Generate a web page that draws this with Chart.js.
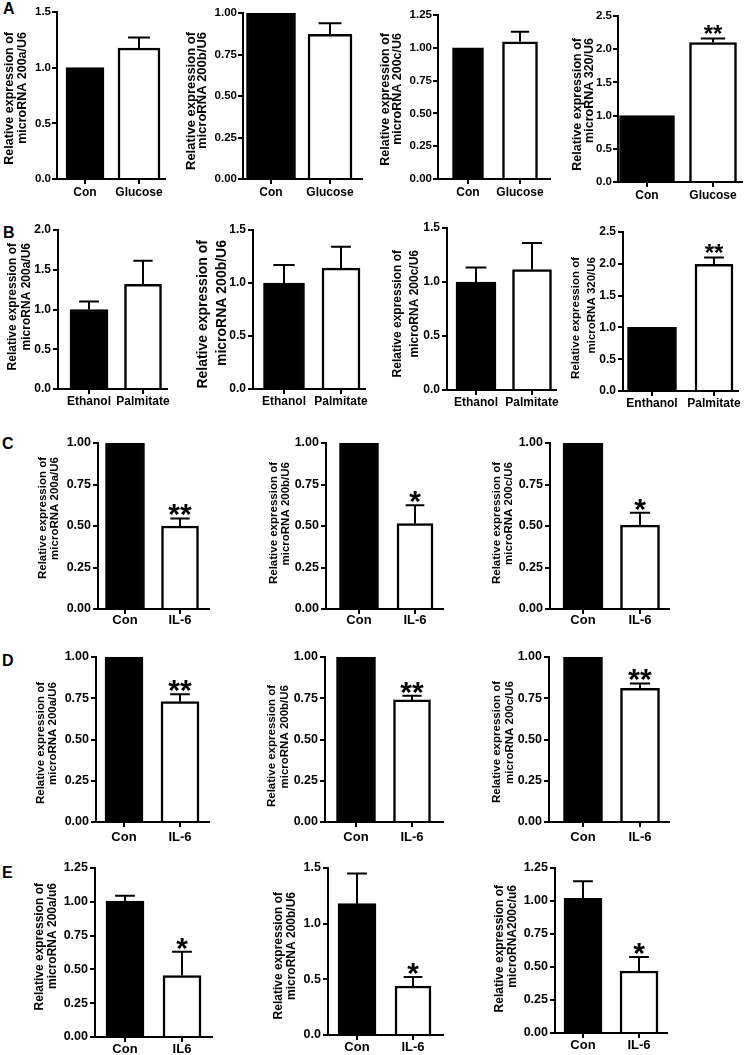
<!DOCTYPE html>
<html>
<head>
<meta charset="utf-8">
<script src="https://cdn.jsdelivr.net/npm/chart.js@4.4.0/dist/chart.umd.min.js"></script>
<style>
  html, body { margin: 0; padding: 0; background: #fff; }
  body { width: 745px; height: 1055px; position: relative; overflow: hidden; }
  canvas { position: absolute; }
  .tag { position: absolute; font: bold 16px 'Liberation Sans', Arial, sans-serif; line-height: 16px; color: #000; }
</style>
</head>
<body>
<div class="tag" style="left:3px;top:1px">A</div>
<div class="tag" style="left:3px;top:225px">B</div>
<div class="tag" style="left:2px;top:436px">C</div>
<div class="tag" style="left:2px;top:653px">D</div>
<div class="tag" style="left:2px;top:865px">E</div>
<script>
// values, one entry per panel (A1..A4, B1..B4, C1..C3, D1..D3, E1..E3)
const panelRows = ['A', 'A', 'A', 'A', 'B', 'B', 'B', 'B', 'C', 'C', 'C', 'D', 'D', 'D', 'E', 'E', 'E'];

const groupLabels = [
    ['Con', 'Glucose'], ['Con', 'Glucose'], ['Con', 'Glucose'], ['Con', 'Glucose'],
    ['Ethanol', 'Palmitate'], ['Ethanol', 'Palmitate'], ['Ethanol', 'Palmitate'], ['Enthanol', 'Palmitate'],
    ['Con', 'IL-6'], ['Con', 'IL-6'], ['Con', 'IL-6'],
    ['Con', 'IL-6'], ['Con', 'IL-6'], ['Con', 'IL-6'],
    ['Con', 'IL6'], ['Con', 'IL-6'], ['Con', 'IL-6']
];

const yTitles = [
    'microRNA 200a/U6', 'microRNA 200b/U6', 'microRNA 200c/U6', 'microRNA 320/U6',
    'microRNA 200a/U6', 'microRNA 200b/U6', 'microRNA 200c/U6', 'microRNA 320/U6',
    'microRNA 200a/U6', 'microRNA 200b/U6', 'microRNA 200c/U6',
    'microRNA 200a/U6', 'microRNA 200b/U6', 'microRNA 200c/U6',
    'microRNA 200a/u6', 'microRNA 200b/U6', 'microRNA200c/u6'
];

const q4 = ['0.00', '0.25', '0.50', '0.75', '1.00'];
const q5 = ['0.00', '0.25', '0.50', '0.75', '1.00', '1.25'];
const yTickLabels = [
    ['0.0', '0.5', '1.0', '1.5'],
    q4,
    q5,
    ['0.0', '0.5', '1.0', '1.5', '2.0', '2.5'],
    ['0.0', '0.5', '1.0', '1.5', '2.0'],
    ['0.0', '0.5', '1.0', '1.5'],
    ['0.0', '0.5', '1.0', '1.5'],
    ['0.0', '0.5', '1.0', '1.5', '2.0', '2.5'],
    q4, q4, q4,
    q4, q4, q4,
    q5,
    ['0.0', '0.5', '1.0', '1.5'],
    q5
];

const controlMeans = [1.0, 1.0, 1.0, 1.0, 1.0, 1.0, 1.0, 1.0, 1.0, 1.0, 1.0, 1.0, 1.0, 1.0, 1.005, 1.18, 1.02];
const controlErrTop = [null, null, null, null, 1.10, 1.17, 1.135, null, null, null, null, null, null, null, 1.045, 1.45, 1.15];
const treatedMeans = [1.177, 0.872, 1.046, 2.10, 1.317, 1.14, 1.116, 1.99, 0.50, 0.515, 0.505, 0.73, 0.74, 0.81, 0.455, 0.44, 0.47];
const treatedErrTop = [1.27, 0.938, 1.123, 2.16, 1.614, 1.342, 1.36, 2.10, 0.545, 0.625, 0.58, 0.775, 0.765, 0.84, 0.63, 0.52, 0.575];
const stars = ['', '', '', '**', '', '', '', '**', '**', '*', '*', '**', '**', '**', '*', '*', '*'];

// where each panel sits on the page:
// y axis x, x axis end, top tick y, zero y, bar centres, bar widths,
// title line centres, title top end, title size
const boxes = [
    [57, 165, 12, 179, 85, 139, 38, 42, 10, 23, 32, 12.5],
    [243, 362, 13, 179, 271, 330, 49, 44, 191, 202, 32, 13],
    [438, 550, 15, 179, 468, 520, 31, 35, 386, 398, 33, 12.5],
    [618, 742, 16, 182, 647, 713, 55, 47, 578, 590, 38, 12.5],
    [58, 167, 230, 389, 89, 143, 38, 37, 13, 27, 243, 12],
    [253, 365, 230, 389, 284, 341, 41, 38, 203, 222, 240, 14],
    [447, 556, 228, 390, 476, 532, 40, 39, 398, 415, 250, 12],
    [623, 738, 232, 391, 652, 714, 49, 38, 576, 592, 257, 11.5],
    [98, 209, 443, 609, 125, 180, 39, 37, 43, 55, 457, 11.5],
    [326, 443, 443, 609, 359, 415, 39, 36, 274, 286, 462, 11.5],
    [550, 669, 443, 609, 583, 640, 40, 39, 497, 509, 462, 11.5],
    [96, 209, 657, 822, 124, 180, 38, 38, 41, 53, 682, 11.5],
    [325, 443, 657, 822, 356, 412, 39, 37, 272, 285, 685, 11.5],
    [549, 669, 657, 822, 583, 640, 39, 39, 497, 510, 681, 11.5],
    [95, 212, 868, 1037, 125, 182, 38, 38, 40, 53, 883, 12],
    [328, 443, 868, 1035, 357, 413, 38, 36, 279, 292, 892, 12],
    [555, 667, 868, 1033, 583, 639, 38, 38, 500, 513, 885, 12]
];

const arial = "'Liberation Sans', Arial, sans-serif";

const rowStyles = {
    A: { tickSize: 11.5, labelSize: 12, lo: 14, star: 24, pad: 1 },
    B: { tickSize: 12, labelSize: 12, lo: 13, star: 24, pad: 2 },
    C: { tickSize: 12.5, labelSize: 13, lo: 11, star: 30, pad: 2 },
    D: { tickSize: 12.5, labelSize: 13, lo: 15, star: 30, pad: 2 },
    E: { tickSize: 12.5, labelSize: 13, lo: 12, star: 30, pad: 2 }
};

// error bars (upper half only) and significance stars
const errorBars = {
    id: 'errorBars',
    afterDatasetsDraw(chart) {
        const ctx = chart.ctx;
        const y = chart.scales.y;
        chart.data.datasets.forEach((ds, di) => {
            chart.getDatasetMeta(di).data.forEach((bar, k) => {
                const p = bar.getProps(['x', 'y', 'width'], true);
                const top = ds.errTop[k];
                let yTop = p.y;
                ctx.save();
                ctx.strokeStyle = '#000';
                ctx.lineWidth = 2;
                if (top != null) {
                    yTop = y.getPixelForValue(top);
                    const half = p.width * 0.26;
                    ctx.beginPath();
                    ctx.moveTo(p.x, p.y);
                    ctx.lineTo(p.x, yTop);
                    ctx.moveTo(p.x - half, yTop);
                    ctx.lineTo(p.x + half, yTop);
                    ctx.stroke();
                }
                if (ds.star) {
                    ctx.fillStyle = '#000';
                    ctx.font = 'bold ' + ds.starSize + 'px ' + arial;
                    ctx.textAlign = 'center';
                    ctx.textBaseline = 'alphabetic';
                    ctx.fillText(ds.star, p.x, yTop + ds.starSize * 0.43 - 7);
                }
                ctx.restore();
            });
        });
    }
};

// two-line y title, rotated, both lines ending at the same height
const yTitle = {
    id: 'yTitle',
    afterDraw(chart, args, opts) {
        const ctx = chart.ctx;
        ctx.save();
        ctx.fillStyle = '#000';
        ctx.font = 'bold ' + opts.size + 'px ' + arial;
        ctx.textAlign = 'right';
        ctx.textBaseline = 'middle';
        opts.lines.forEach((line, k) => {
            ctx.save();
            ctx.translate(opts.xs[k], opts.yEnd);
            ctx.rotate(-Math.PI / 2);
            ctx.fillText(line, 0, 0);
            ctx.restore();
        });
        ctx.restore();
    }
};

boxes.forEach((b, i) => {
    const [ax, ex, top, bot, c0, c1, w0, w1, t1, t2, tEnd, tf] = b;
    const row = rowStyles[panelRows[i]];
    const left = Math.floor(t1 - 8);
    const padTop = 12, padRight = 14;
    const xH = row.lo + row.labelSize + 6;
    const W = ex - left + padRight;
    const H = padTop + (bot - top) + xH;
    const canvasTop = top - padTop;

    const canvas = document.createElement('canvas');
    canvas.width = W;
    canvas.height = H;
    canvas.style.left = left + 'px';
    canvas.style.top = canvasTop + 'px';
    canvas.style.width = W + 'px';
    canvas.style.height = H + 'px';
    document.body.appendChild(canvas);

    const d = c1 - c0;
    const tickVals = yTickLabels[i].map(Number);
    const tickLen = 5;

    new Chart(canvas, {
        type: 'bar',
        data: {
            datasets: [{
                data: [{ x: 0, y: controlMeans[i] }],
                backgroundColor: '#000',
                borderColor: '#000',
                borderWidth: 2,
                barThickness: w0,
                grouped: false,
                errTop: [controlErrTop[i]],
                star: ''
            }, {
                data: [{ x: 1, y: treatedMeans[i] }],
                backgroundColor: '#fff',
                borderColor: '#000',
                borderWidth: 2.5,
                barThickness: w1,
                grouped: false,
                errTop: [treatedErrTop[i]],
                star: stars[i],
                starSize: row.star
            }]
        },
        options: {
            responsive: false,
            animation: false,
            devicePixelRatio: 1,
            layout: { padding: { top: padTop, right: padRight, left: 0, bottom: 0 } },
            plugins: {
                legend: { display: false },
                tooltip: { enabled: false },
                yTitle: {
                    lines: ['Relative expression of', yTitles[i]],
                    xs: [t1 - left, t2 - left],
                    yEnd: tEnd - canvasTop,
                    size: tf
                }
            },
            scales: {
                x: {
                    type: 'linear',
                    offset: false,
                    bounds: 'data',
                    min: -(c0 - ax) / d,
                    max: 1 + (ex - c1) / d,
                    afterBuildTicks: s => { s.ticks = [{ value: 0 }, { value: 1 }]; },
                    afterFit: s => { s.height = xH; },
                    ticks: {
                        autoSkip: false, maxRotation: 0, minRotation: 0,
                        color: '#000',
                        padding: row.lo - tickLen - row.labelSize / 2,
                        font: { family: arial, size: row.labelSize, weight: 'bold', lineHeight: 1 },
                        callback: (v, k) => groupLabels[i][k]
                    },
                    grid: { display: true, drawOnChartArea: false, drawTicks: true, tickLength: tickLen, color: '#000', lineWidth: 2, offset: false },
                    border: { display: true, color: '#000', width: 2, z: 1 }
                },
                y: {
                    type: 'linear',
                    bounds: 'data',
                    min: 0,
                    max: tickVals[tickVals.length - 1],
                    afterBuildTicks: s => { s.ticks = tickVals.map(v => ({ value: v })); },
                    afterFit: s => { s.width = ax - left; },
                    ticks: {
                        color: '#000',
                        padding: row.pad,
                        font: { family: arial, size: row.tickSize, weight: 'bold' },
                        callback: (v, k) => yTickLabels[i][k]
                    },
                    grid: { display: true, drawOnChartArea: false, drawTicks: true, tickLength: tickLen, color: '#000', lineWidth: 2 },
                    border: { display: true, color: '#000', width: 2, z: 1 }
                }
            }
        },
        plugins: [errorBars, yTitle]
    });
});
</script>
</body>
</html>
